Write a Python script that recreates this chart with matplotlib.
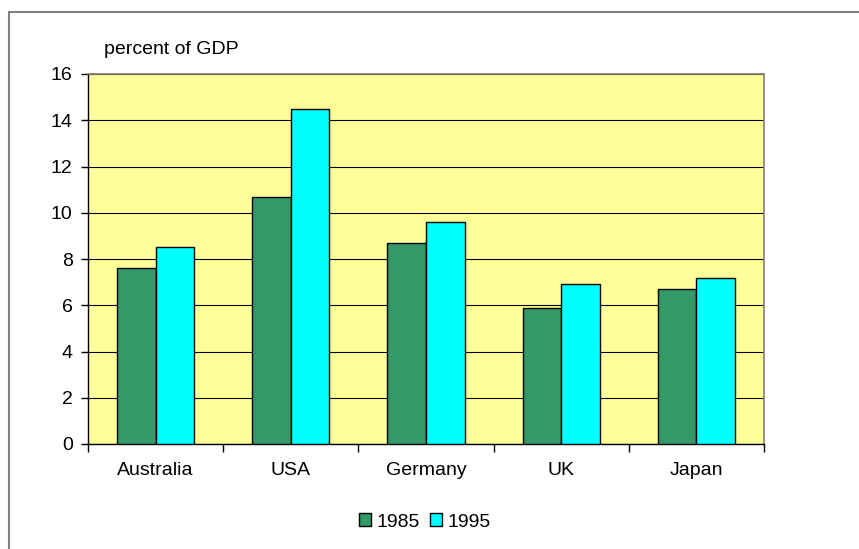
import matplotlib
matplotlib.use("Agg")
import matplotlib.pyplot as plt
import numpy as np
from matplotlib.patches import Rectangle

countries = ["Australia", "USA", "Germany", "UK", "Japan"]
years = ["1985", "1995"]
values_1985 = [7.6, 10.7, 8.7, 5.9, 6.7]
values_1995 = [8.5, 14.5, 9.6, 6.9, 7.2]
y_ticks = [0, 2, 4, 6, 8, 10, 12, 14, 16]

plt.rcParams["font.family"] = ["Liberation Sans", "DejaVu Sans"]
FS = 14

W, H = 859, 549
fig = plt.figure(figsize=(W / 100, H / 100), dpi=100)

# outer chart border (left and top visible, rest runs off the edge)
fig.patches.append(Rectangle((9 / W, 0 - 0.01), 1.0, 1 - 12 / H + 0.01,
                             transform=fig.transFigure, fill=False,
                             edgecolor="#808080", linewidth=1.5))

left, right, top, bottom = 88, 764, 74, 444
ax = fig.add_axes([left / W, 1 - bottom / H, (right - left) / W, (bottom - top) / H])
ax.set_facecolor("#FFFF99")

x = np.arange(len(countries))
w = 0.286
ax.bar(x - w / 2, values_1985, w, color="#339966", edgecolor="black",
       linewidth=1, label=years[0], zorder=3)
ax.bar(x + w / 2, values_1995, w, color="#00FFFF", edgecolor="black",
       linewidth=1, label=years[1], zorder=3)

ax.set_xlim(-0.5, len(countries) - 0.5)
ax.set_ylim(0, 16)
ax.set_yticks(y_ticks)
ax.set_yticklabels([str(t) for t in y_ticks], fontsize=FS)
ax.yaxis.grid(True, color="black", linewidth=0.8, zorder=0)
ax.set_axisbelow(True)

# category labels centred, ticks between categories
ax.set_xticks(x)
ax.set_xticklabels(countries, fontsize=FS)
ax.tick_params(axis="x", length=0, pad=13)
ax.set_xticks(np.arange(-0.5, len(countries)), minor=True)
ax.tick_params(axis="x", which="minor", length=6, width=1, color="black", direction="out")
ax.tick_params(axis="y", length=5, width=1, color="black", direction="out", pad=6)

for s in ["top", "right"]:
    ax.spines[s].set_color("#808080")
    ax.spines[s].set_linewidth(1.2)
for s in ["left", "bottom"]:
    ax.spines[s].set_color("black")
    ax.spines[s].set_linewidth(1)

fig.text(171 / W, 1 - 50 / H, "percent of GDP", fontsize=FS, ha="center", va="center")

fig.legend(loc="center", bbox_to_anchor=(425 / W, 1 - 522 / H), ncol=2,
           frameon=False, fontsize=FS, handlelength=0.6, handleheight=0.6,
           handletextpad=0.3, columnspacing=0.5)

fig.savefig("out.png", dpi=100)
